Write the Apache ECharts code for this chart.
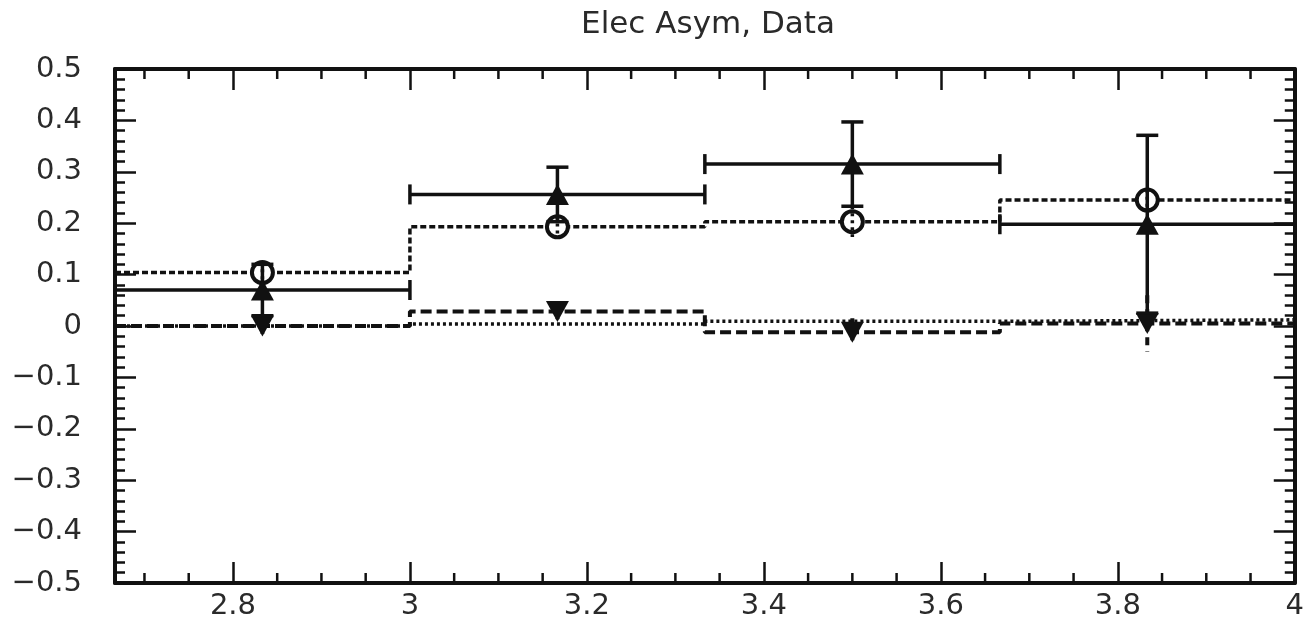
<!DOCTYPE html>
<html>
<head>
<meta charset="utf-8">
<script src="https://cdn.jsdelivr.net/npm/echarts@6/dist/echarts.min.js"></script>
<style>
  html, body { margin: 0; padding: 0; background: #fff; }
  #chart { width: 1307px; height: 629px; }
</style>
</head>
<body>
<div id="chart"></div>
<script>
// Binning in x
const binEdges   = [2.6667, 3.0, 3.3333, 3.6667, 4.0];
const binCenters = [2.8333, 3.1667, 3.5, 3.8333];

// Asymmetry per bin
const upValues     = [0.070, 0.256, 0.315, 0.198];   // filled up-triangles
const upErrors     = [0.050, 0.053, 0.082, 0.173];
const circleValues = [0.104, 0.193, 0.203, 0.245];   // open circles, dotted histogram
const circleErrors = [0.020, 0.020, 0.030, 0.020];
const downValues   = [0.000, 0.028, -0.012, 0.005];  // filled down-triangles, dashed histogram
const downErrors   = [0.015, 0.015, 0.027, 0.055];
const dottedValues = [0.000, 0.004, 0.009, 0.012];   // fine dotted histogram

// Axis ranges
const xRange = [2.6667, 4.0];
const yRange = [-0.5, 0.5];
const xMajorStep = 0.2, xMinorStep = 0.05;

const INK = '#111';
const TEXT = '#2a2a2a';
const FONT = 'DejaVu Sans';

// histogram outline: one flat segment per bin, joined by verticals
function stepPoints(vals) {
  const pts = [];
  vals.forEach((v, i) => { pts.push([binEdges[i], v]); pts.push([binEdges[i + 1], v]); });
  return pts;
}

// minor x ticks (every 0.05 between the 0.2 majors)
const xMinorTicks = [];
for (let k = Math.ceil(xRange[0] / xMinorStep - 1e-9); k * xMinorStep <= xRange[1] + 1e-9; k++) {
  const v = +(k * xMinorStep).toFixed(4);
  const r = v / xMajorStep;
  if (Math.abs(r - Math.round(r)) > 1e-6 && v > xRange[0]) xMinorTicks.push([v]);
}

function seg(x1, y1, x2, y2, width, dash) {
  return {
    type: 'line',
    shape: { x1, y1, x2, y2 },
    style: { stroke: INK, lineWidth: width, lineDash: dash || null, fill: null }
  };
}

const chart = echarts.init(document.getElementById('chart'), null, { renderer: 'canvas' });

const axisLineStyle = { show: true, onZero: false, lineStyle: { color: INK, width: 4 } };
const majorTick = { show: true, inside: true, length: 21, lineStyle: { color: INK, width: 2.5 } };

function xAxisDef(pos, labels) {
  return {
    type: 'value', position: pos, min: xRange[0], max: xRange[1], splitNumber: 6,
    axisLine: axisLineStyle, axisTick: majorTick,
    minorTick: { show: false }, splitLine: { show: false },
    axisLabel: labels ? {
      show: true, showMinLabel: false, showMaxLabel: true, margin: 9,
      fontSize: 29, fontFamily: FONT, color: TEXT
    } : { show: false }
  };
}
function yAxisDef(pos, labels) {
  return {
    type: 'value', position: pos, min: yRange[0], max: yRange[1], interval: 0.1,
    axisLine: axisLineStyle, axisTick: majorTick,
    minorTick: { show: true, splitNumber: 5, length: 10, lineStyle: { color: INK, width: 2.5 } },
    splitLine: { show: false },
    axisLabel: labels ? {
      show: true, margin: 33, fontSize: 29, fontFamily: FONT, color: TEXT,
      formatter: v => {
        const a = parseFloat(Math.abs(v).toFixed(2));
        return (v < -1e-9 ? '\u2212' : '') + a;
      }
    } : { show: false }
  };
}

const option = {
  animation: false,
  backgroundColor: '#fff',
  title: {
    text: 'Elec Asym, Data',
    left: 703, top: 4, textAlign: 'center',
    textStyle: { fontSize: 31, fontWeight: 'normal', fontFamily: FONT, color: TEXT }
  },
  grid: { left: 115, right: 11, top: 69, bottom: 46, containLabel: false },
  xAxis: [xAxisDef('bottom', true), xAxisDef('top', false)],
  yAxis: [yAxisDef('left', true), yAxisDef('right', false)],
  series: [
    {
      name: 'dotted', type: 'line', z: 2, silent: true, showSymbol: false,
      data: stepPoints(dottedValues),
      lineStyle: { color: INK, width: 3.5, type: [3, 3] }
    },
    {
      name: 'dashed', type: 'line', z: 2, silent: true, showSymbol: false,
      data: stepPoints(downValues),
      lineStyle: { color: INK, width: 4, type: [11, 5] }
    },
    {
      name: 'circles-hist', type: 'line', z: 2, silent: true, showSymbol: false,
      data: stepPoints(circleValues),
      lineStyle: { color: INK, width: 3.5, type: [6, 3] }
    },
    {
      name: 'circles', type: 'scatter', z: 4, silent: true,
      data: binCenters.map((x, i) => [x, circleValues[i]]),
      symbol: 'circle', symbolSize: 21,
      itemStyle: { color: '#fff', borderColor: INK, borderWidth: 4, opacity: 1 }
    },
    {
      name: 'circles-err', type: 'custom', z: 5, silent: true,
      data: binCenters.map((x, i) => [x, circleValues[i], circleErrors[i]]),
      renderItem: (params, api) => {
        const x = api.value(0), y = api.value(1), e = api.value(2);
        const t = api.coord([x, y + e]), b = api.coord([x, y - e]);
        return { type: 'group', children: [seg(t[0], t[1], b[0], b[1], 3.5, [3, 4])] };
      }
    },
    {
      name: 'down-err', type: 'custom', z: 5, silent: true,
      data: binCenters.map((x, i) => [x, downValues[i], downErrors[i]]),
      renderItem: (params, api) => {
        const x = api.value(0), y = api.value(1), e = api.value(2);
        const t = api.coord([x, y + e]), b = api.coord([x, y - e]);
        return { type: 'group', children: [seg(t[0], t[1], b[0], b[1], 4, [8, 6])] };
      }
    },
    {
      name: 'down', type: 'scatter', z: 6, silent: true,
      data: binCenters.map((x, i) => [x, downValues[i]]),
      symbol: 'triangle', symbolRotate: 180, symbolSize: [23, 21],
      itemStyle: { color: INK, opacity: 1 }
    },
    {
      name: 'up-err', type: 'custom', z: 7, silent: true,
      data: binCenters.map((x, i) => [x, upValues[i], upErrors[i], binEdges[i], binEdges[i + 1]]),
      renderItem: (params, api) => {
        const x = api.value(0), y = api.value(1), e = api.value(2);
        const lo = api.coord([api.value(3), y]), hi = api.coord([api.value(4), y]);
        const t = api.coord([x, y + e]), b = api.coord([x, y - e]);
        const capH = 10, capW = 11;
        return {
          type: 'group',
          children: [
            seg(lo[0], lo[1], hi[0], hi[1], 3.5),
            seg(lo[0], lo[1] - capH, lo[0], lo[1] + capH, 3.5),
            seg(hi[0], hi[1] - capH, hi[0], hi[1] + capH, 3.5),
            seg(t[0], t[1], b[0], b[1], 3.5),
            seg(t[0] - capW, t[1], t[0] + capW, t[1], 3.5),
            seg(b[0] - capW, b[1], b[0] + capW, b[1], 3.5)
          ]
        };
      }
    },
    {
      name: 'up', type: 'scatter', z: 8, silent: true,
      data: binCenters.map((x, i) => [x, upValues[i]]),
      symbol: 'triangle', symbolSize: [23, 21],
      itemStyle: { color: INK, opacity: 1 }
    },
    {
      name: 'x-minor-ticks', type: 'custom', z: 10, silent: true,
      data: xMinorTicks,
      renderItem: (params, api) => {
        const bot = api.coord([api.value(0), yRange[0]]);
        const top = api.coord([api.value(0), yRange[1]]);
        return {
          type: 'group',
          children: [
            seg(bot[0], bot[1], bot[0], bot[1] - 10, 2.5),
            seg(top[0], top[1], top[0], top[1] + 10, 2.5)
          ]
        };
      }
    }
  ]
};

chart.setOption(option);
</script>
</body>
</html>
